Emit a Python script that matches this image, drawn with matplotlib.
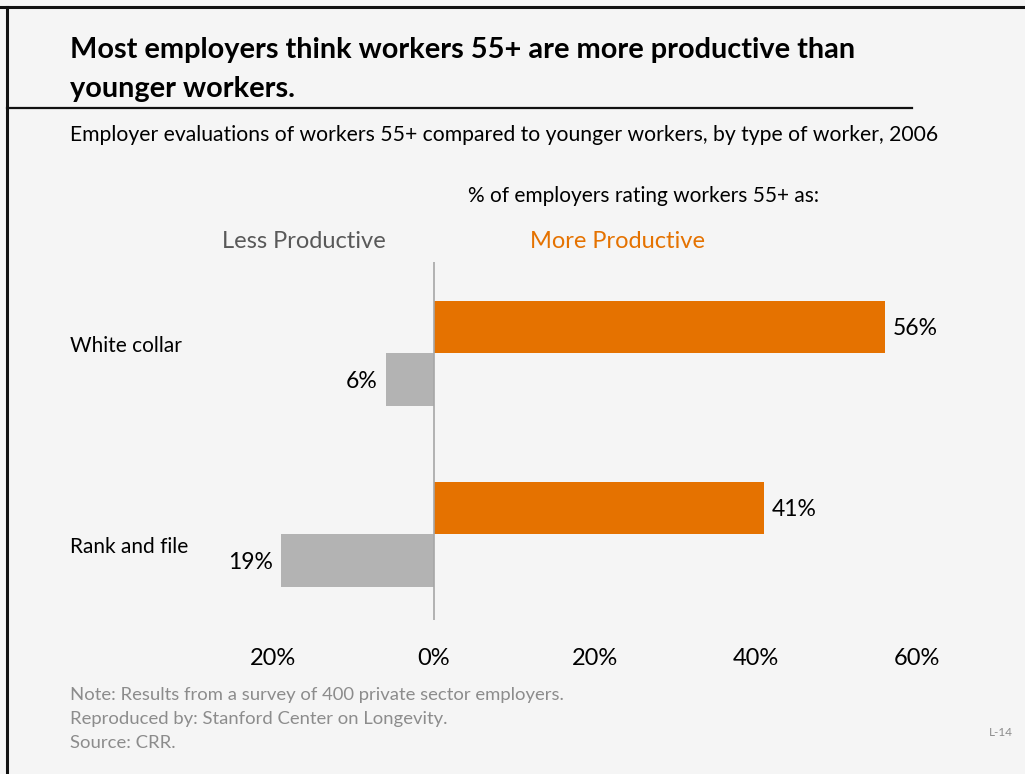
import numpy as np
import matplotlib.pyplot as plt
from matplotlib.lines import Line2D

plt.rcParams['font.family'] = ['Lato', 'DejaVu Sans']

# Data
categories = ["White collar", "Rank and file"]
more_productive = [56, 41]
less_productive = [6, 19]
tick_values = [-20, 0, 20, 40, 60]
tick_labels = ["20%", "0%", "20%", "40%", "60%"]

orange = '#e57200'
grey_bar = '#b3b3b3'
bg = '#f5f5f5'

W, H = 1025, 774
fig = plt.figure(figsize=(W / 100, H / 100), dpi=100, facecolor=bg)

def fx(px):
    return px / W

def fy(py):
    return 1 - py / H

# frame lines (top and left) and title rule
fig.add_artist(Line2D([0, 1], [fy(7), fy(7)], color='#111111', lw=2.2, transform=fig.transFigure))
fig.add_artist(Line2D([fx(7), fx(7)], [0, fy(7)], color='#111111', lw=2.2, transform=fig.transFigure))
fig.add_artist(Line2D([fx(7), fx(912)], [fy(108), fy(108)], color='#111111', lw=1.6, transform=fig.transFigure))

fig.text(fx(70), fy(50), "Most employers think workers 55+ are more productive than",
         fontsize=20.8, fontweight='bold', va='center', ha='left')
fig.text(fx(70), fy(89), "younger workers.",
         fontsize=20.8, fontweight='bold', va='center', ha='left')
fig.text(fx(70), fy(135), "Employer evaluations of workers 55+ compared to younger workers, by type of worker, 2006",
         fontsize=15.2, va='center', ha='left')
fig.text(fx(644), fy(196), "% of employers rating workers 55+ as:",
         fontsize=15, va='center', ha='center')
fig.text(fx(304), fy(242), "Less Productive", fontsize=17, color='#595959', va='center', ha='center')
fig.text(fx(618), fy(242), "More Productive", fontsize=17, color=orange, va='center', ha='center')

# plot area: x from -20% to 60%, zero line at 435px
ax = fig.add_axes([fx(273), fy(620), fx(917) - fx(273), fy(262) - fy(620)])
ax.set_facecolor(bg)
ax.set_xlim(-20, 60)
ax.set_ylim(1.475, -0.503)

y = np.arange(len(categories))
h = 0.29
ax.barh(y - h / 2, more_productive, height=h, color=orange)
ax.barh(y + h / 2, [-v for v in less_productive], height=h, color=grey_bar)
ax.axvline(0, color='#a6a6a6', lw=1.2)

for yi, v in zip(y, more_productive):
    ax.text(v + 1.0, yi - h / 2 + 0.01, f"{v}%", fontsize=16.5, va='center', ha='left')
for yi, v in zip(y, less_productive):
    ax.text(-v - 1.0, yi + h / 2 + 0.01, f"{v}%", fontsize=16.5, va='center', ha='right')

# category names sit at the left margin, roughly level with each pair of bars
label_shift = [-0.04, 0.07]
for yi, c, d in zip(y, categories, label_shift):
    ax.text(fx(70), yi + d, c, fontsize=15, va='center', ha='left',
            transform=ax.get_yaxis_transform().__class__(fig.transFigure, ax.transData))

ax.set_xticks(tick_values)
ax.set_xticklabels(tick_labels, fontsize=17)
ax.tick_params(axis='x', length=0, pad=20)
ax.set_yticks([])
for s in ax.spines.values():
    s.set_visible(False)

notes = ["Note: Results from a survey of 400 private sector employers.",
         "Reproduced by: Stanford Center on Longevity.",
         "Source: CRR."]
for i, n in enumerate(notes):
    fig.text(fx(70), fy(695 + 24 * i), n, fontsize=13.3, color='#8c8c8c', va='center', ha='left')
fig.text(fx(1013), fy(733), "L-14", fontsize=8.5, color='#8c8c8c', va='center', ha='right')

fig.savefig('out.png', dpi=100, facecolor=bg)
